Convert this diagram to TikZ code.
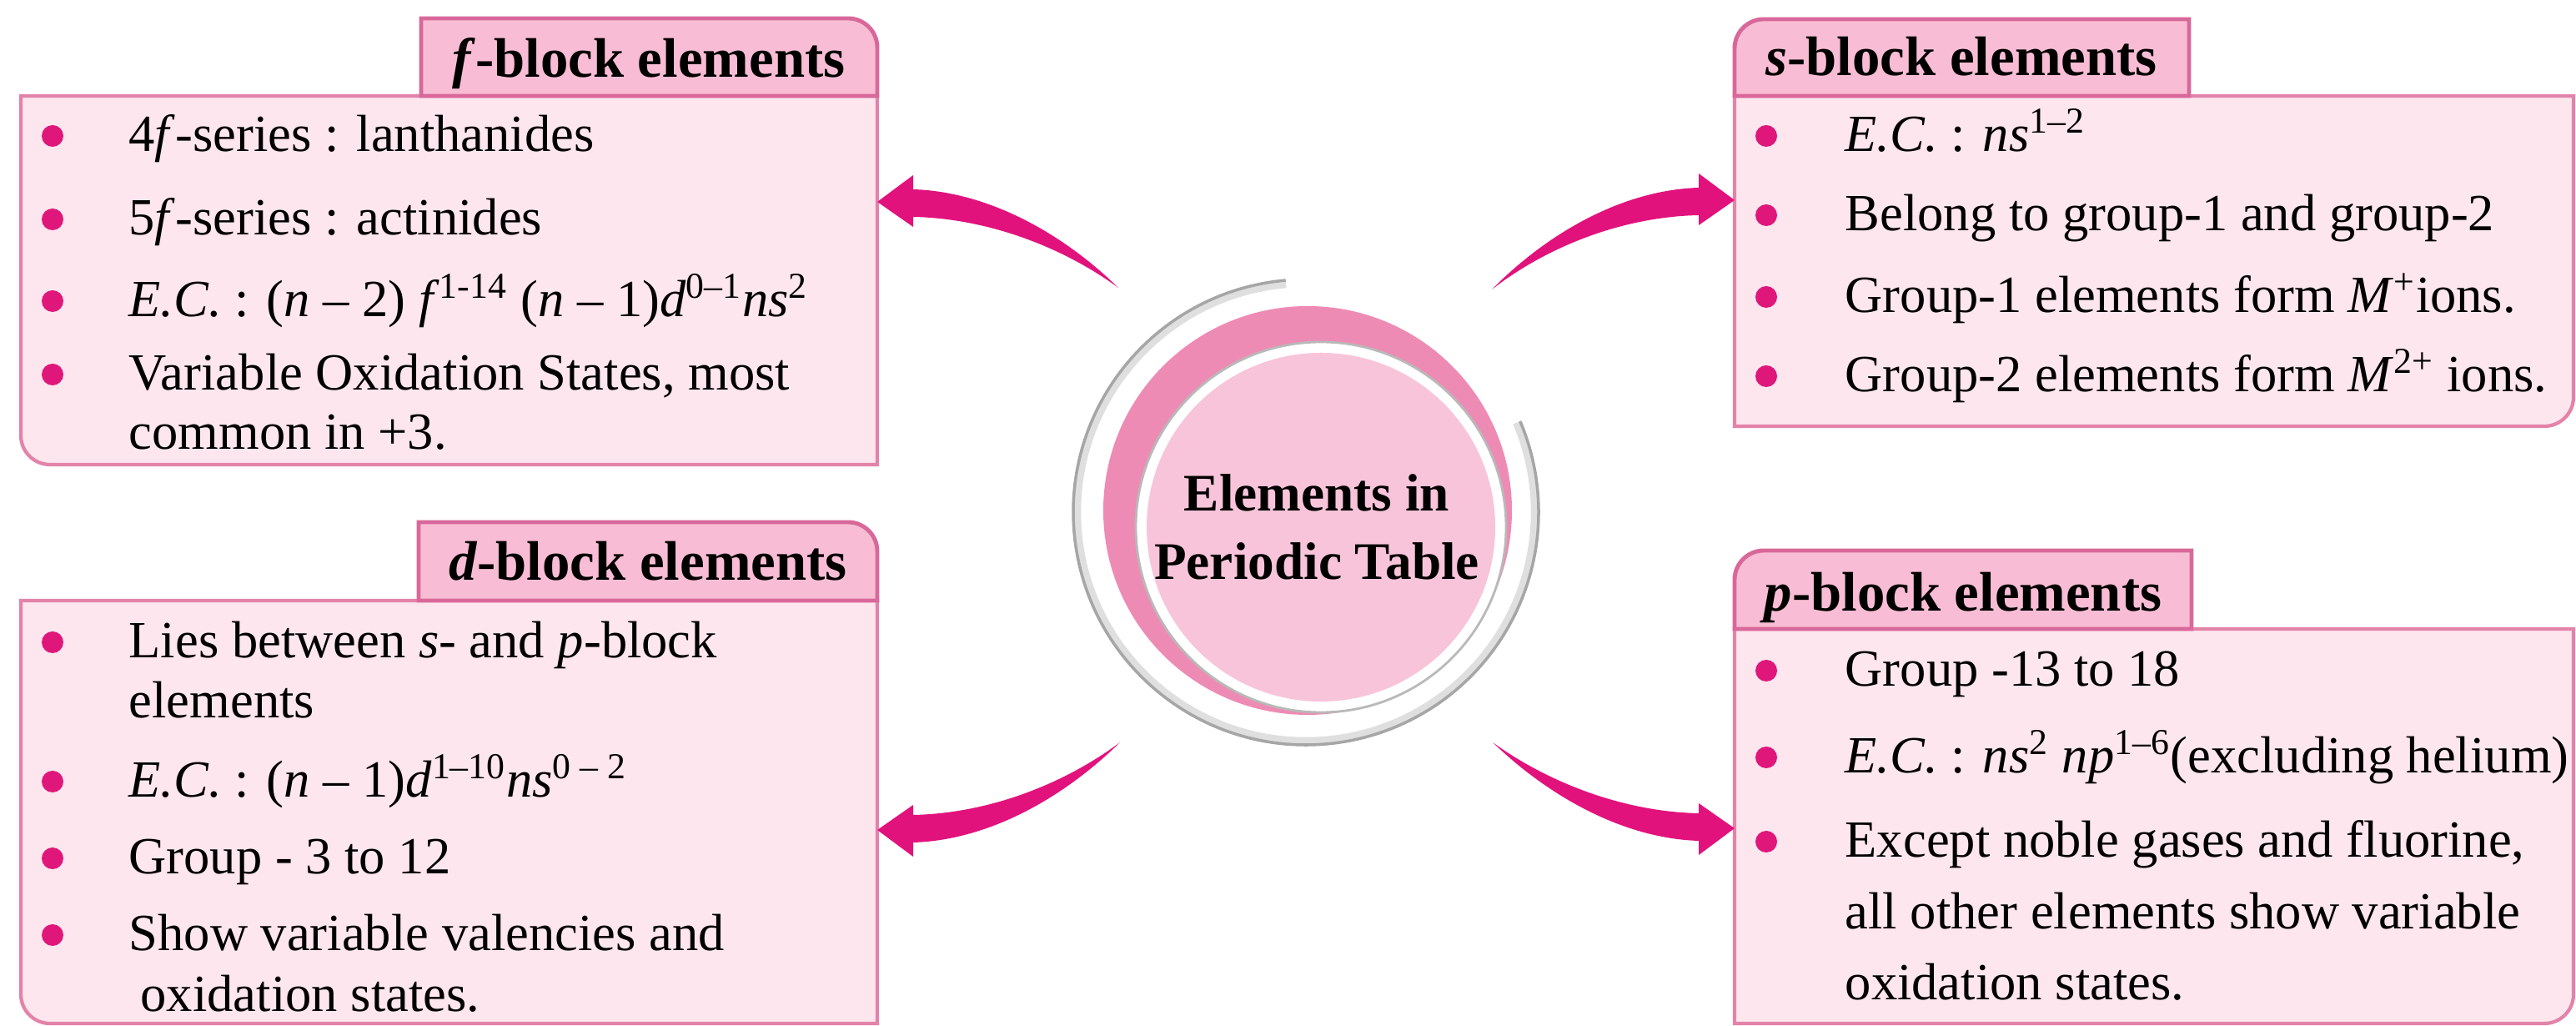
\documentclass[tikz,border=0pt]{standalone}
\usepackage{fontspec}
\setmainfont{Liberation Serif}
\usetikzlibrary{calc}

\definecolor{boxfill}{HTML}{FDE6EE}
\definecolor{tabfill}{HTML}{F8BDD4}
\definecolor{boxline}{HTML}{E383A9}
\definecolor{tabline}{HTML}{D9689A}
\definecolor{dotpink}{HTML}{E0177B}
\definecolor{arrowpink}{HTML}{E2127D}
\definecolor{ringpink}{HTML}{EE8BB4}
\definecolor{hubpink}{HTML}{F8C4D9}

\newcommand\bodyfont{\fontsize{17.8}{21}\selectfont}
\newcommand\headfont{\fontsize{19}{22}\selectfont\bfseries}
\newcommand\hubfont{\fontsize{18}{22}\selectfont\bfseries}
% #1 tip, #2 tail, #3 #4 mirror signs
\newcommand\curvedarrow[4]{%
  \fill[arrowpink, shift={(#1)}, xscale=#3, yscale=#4] (0,0) -- (0.43,0.32) -- (0.43,0.15)
    .. controls (1.38,0.12) and (2.28,-0.43) .. (#2)
    .. controls (2.28,-0.58) and (1.38,-0.20) .. (0.43,-0.18) -- (0.43,-0.30) -- cycle;}

\begin{document}
\begin{tikzpicture}[panelbox/.style={fill=boxfill, draw=boxline, line width=1.2pt},
  tabbox/.style={fill=tabfill, draw=tabline, line width=1.4pt}]
\useasboundingbox (0,0) rectangle (30.89,12.30);

\filldraw[panelbox] (0.25,11.15) -- (10.52,11.15) -- (10.52,6.73) -- (0.60,6.73) arc[start angle=270, end angle=180, radius=0.35] -- cycle;
\filldraw[tabbox] (5.05,11.15) -- (5.05,12.08) -- (10.17,12.08) arc[start angle=90, end angle=0, radius=0.35] -- (10.52,11.15) -- cycle;

\filldraw[panelbox] (20.80,11.15) -- (30.86,11.15) -- (30.86,7.54) arc[start angle=0, end angle=-90, radius=0.35] -- (20.80,7.19) -- cycle;
\filldraw[tabbox] (26.25,11.15) -- (26.25,12.07) -- (21.15,12.07) arc[start angle=90, end angle=180, radius=0.35] -- (20.80,11.15) -- cycle;

\filldraw[panelbox] (0.25,5.10) -- (10.52,5.10) -- (10.52,0.03) -- (0.60,0.03) arc[start angle=270, end angle=180, radius=0.35] -- cycle;
\filldraw[tabbox] (5.02,5.10) -- (5.02,6.04) -- (10.17,6.04) arc[start angle=90, end angle=0, radius=0.35] -- (10.52,5.10) -- cycle;

\filldraw[panelbox] (20.80,4.76) -- (30.86,4.76) -- (30.86,0.38) arc[start angle=0, end angle=-90, radius=0.35] -- (20.80,0.03) -- cycle;
\filldraw[tabbox] (26.28,4.76) -- (26.28,5.70) -- (21.15,5.70) arc[start angle=90, end angle=180, radius=0.35] -- (20.80,4.76) -- cycle;

\coordinate (hub) at (15.66,6.16);
\draw[gray!25, line width=3pt] (hub) ++(95:2.75) arc[start angle=95, end angle=383, radius=2.75];
\draw[gray!70, line width=1pt] (hub) ++(95:2.79) arc[start angle=95, end angle=383, radius=2.79];
\fill[ringpink] (15.68,6.18) circle (2.45);
\filldraw[fill=white, draw=gray!55, line width=0.8pt] (15.84,5.98) circle (2.22);
\fill[hubpink] (15.84,5.98) circle (2.09);

\begin{scope}[every node/.style={inner sep=0pt, font=\bodyfont, anchor=base west}]
    \node [font=\headfont, anchor=base] (fhead) at (7.78,11.37) {\textit{f}-block elements};
    \node [font=\headfont, anchor=base] (shead) at (23.52,11.39) {\textit{s}-block elements};
    \node [font=\headfont, anchor=base] (dhead) at (7.77,5.34) {\textit{d}-block elements};
    \node [font=\headfont, anchor=base] (phead) at (23.54,4.97) {\textit{p}-block elements};

    \node [font=\hubfont, anchor=base] (hubtop) at (15.79,6.17) {Elements in};
    \node [font=\hubfont, anchor=base] (hubbot) at (15.79,5.35) {Periodic Table};

    \fill[dotpink] (0.63,10.67) circle (0.13);
    \fill[dotpink] (0.63,9.67) circle (0.13);
    \fill[dotpink] (0.63,8.69) circle (0.13);
    \fill[dotpink] (0.63,7.81) circle (0.13);
    \node (f1) at (1.54,10.48) {4\textit{f}-series : lanthanides};
    \node (f2) at (1.54,9.48) {5\textit{f}-series : actinides};
    \node (f3) at (1.54,8.50) {\textit{E.C.} : (\textit{n} – 2) \textit{f}\textsuperscript{1-14} (\textit{n} – 1)\textit{d}\textsuperscript{0–1}\textit{ns}\textsuperscript{2}};
    \node (f4) at (1.54,7.62) {Variable Oxidation States, most};
    \node (f5) at (1.54,6.91) {common in +3.};

    \fill[dotpink] (21.18,10.67) circle (0.13);
    \fill[dotpink] (21.18,9.72) circle (0.13);
    \fill[dotpink] (21.18,8.74) circle (0.13);
    \fill[dotpink] (21.18,7.79) circle (0.13);
    \node (s1) at (22.12,10.48) {\textit{E.C.} : \textit{ns}\textsuperscript{1–2}};
    \node (s2) at (22.12,9.53) {Belong to group-1 and group-2};
    \node (s3) at (22.12,8.55) {Group-1 elements form \textit{M}\textsuperscript{+}ions.};
    \node (s4) at (22.12,7.60) {Group-2 elements form \textit{M}\textsuperscript{2+} ions.};

    \fill[dotpink] (0.63,4.60) circle (0.13);
    \fill[dotpink] (0.63,2.93) circle (0.13);
    \fill[dotpink] (0.63,2.01) circle (0.13);
    \fill[dotpink] (0.63,1.09) circle (0.13);
    \node (d1) at (1.54,4.41) {Lies between \textit{s}- and \textit{p}-block};
    \node (d2) at (1.54,3.69) {elements};
    \node (d3) at (1.54,2.74) {\textit{E.C.} : (\textit{n} – 1)\textit{d}\textsuperscript{1–10}\textit{ns}\textsuperscript{0 – 2}};
    \node (d4) at (1.54,1.82) {Group - 3 to 12};
    \node (d5) at (1.54,0.90) {Show variable valencies and};
    \node (d6) at (1.68,0.17) {oxidation states.};

    \fill[dotpink] (21.18,4.26) circle (0.13);
    \fill[dotpink] (21.18,3.22) circle (0.13);
    \fill[dotpink] (21.18,2.21) circle (0.13);
    \node (p1) at (22.12,4.07) {Group -13 to 18};
    \node (p2) at (22.12,3.03) {\textit{E.C.} : \textit{ns}\textsuperscript{2} \textit{np}\textsuperscript{1–6}(excluding helium)};
    \node (p3) at (22.12,2.02) {Except noble gases and fluorine,};
    \node (p4) at (22.12,1.16) {all other elements show variable};
    \node (p5) at (22.12,0.31) {oxidation states.};
\end{scope}

\coordinate (ftip) at (10.52,9.88);
\coordinate (stip) at (20.80,9.90);
\coordinate (dtip) at (10.52,2.35);
\coordinate (ptip) at (20.80,2.37);
\coordinate (ftail) at ($(hub)+(-2.25,2.69)$);
\coordinate (stail) at ($(hub)+(2.23,2.67)$);
\coordinate (dtail) at ($(hub)+(-2.23,-2.76)$);
\coordinate (ptail) at ($(hub)+(2.24,-2.76)$);

\curvedarrow{ftip}{ftail}{1}{1}
\curvedarrow{stip}{stail}{-1}{1}
\curvedarrow{dtip}{dtail}{1}{-1}
\curvedarrow{ptip}{ptail}{-1}{-1}

\end{tikzpicture}
\end{document}
